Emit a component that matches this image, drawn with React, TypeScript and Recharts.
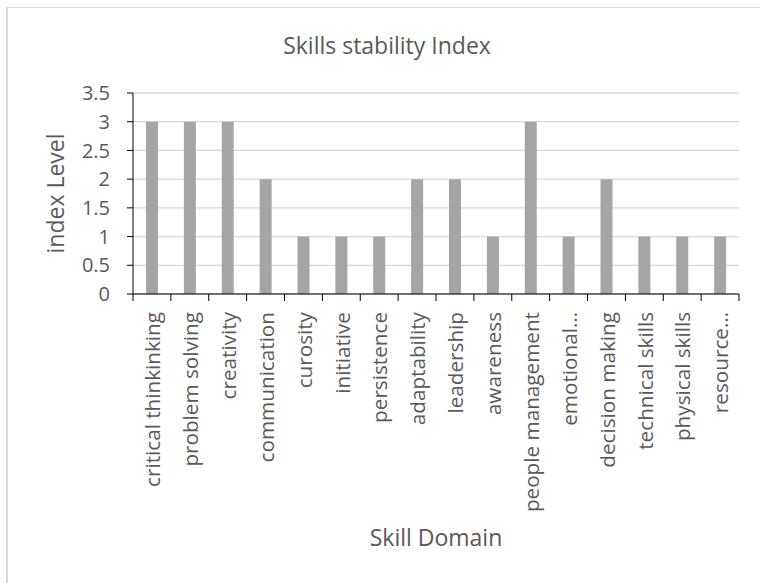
import { BarChart, Bar, XAxis, YAxis, CartesianGrid } from 'recharts';

const skills = [
  'critical thinkinking',
  'problem solving',
  'creativity',
  'communication',
  'curosity',
  'initiative',
  'persistence',
  'adaptability',
  'leadership',
  'awareness',
  'people management',
  'emotional…',
  'decision making',
  'technical skills',
  'physical skills',
  'resource…',
];
const indexLevels = [3, 3, 3, 2, 1, 1, 1, 2, 2, 1, 3, 1, 2, 1, 1, 1];
const yTicks = [0, 0.5, 1, 1.5, 2, 2.5, 3, 3.5];

const data = skills.map((skill, i) => ({ skill, level: indexLevels[i] }));

const TEXT = '#595959';
const PLOT_W = 606;
const BAND = PLOT_W / skills.length;

function SkillTick(props: any) {
  const { x, y, payload, index } = props;
  const half = payload?.offset || BAND / 2;
  return (
    <g transform={`translate(${x},${y})`}>
      <line x1={-half} x2={-half} y1={0} y2={7} stroke="#000" />
      {index === skills.length - 1 && <line x1={half} x2={half} y1={0} y2={7} stroke="#000" />}
      <text
        transform="translate(1,18) rotate(-90)"
        textAnchor="end"
        dy="0.35em"
        fontSize={20.7}
        fill={TEXT}
      >
        {payload.value}
      </text>
    </g>
  );
}

export default function App() {
  return (
    <div
      style={{
        position: 'fixed',
        left: 0,
        top: 0,
        width: 760,
        height: 583,
        overflow: 'hidden',
        background: '#fff',
        fontFamily: '"Open Sans", sans-serif',
      }}
    >
      <div
        style={{
          position: 'absolute',
          left: 6,
          top: 7,
          width: 800,
          height: 700,
          borderLeft: '2px solid #d9d9d9',
          borderTop: '1px solid #d9d9d9',
        }}
      />
      <div
        style={{
          position: 'absolute',
          left: 0,
          top: 34,
          width: 774,
          textAlign: 'center',
          fontSize: 23,
          lineHeight: '23px',
          color: TEXT,
        }}
      >
        Skills stability Index
      </div>
      <div style={{ position: 'absolute', left: 0, top: 0 }}>
        <BarChart width={760} height={583} data={data} margin={{ top: 93, right: 21, left: 0, bottom: 0 }}>
          <CartesianGrid vertical={false} stroke="#d9d9d9" strokeWidth={1.3} />
          <XAxis
            dataKey="skill"
            interval={0}
            height={289}
            tickSize={0}
            tickMargin={0}
            tickLine={false}
            axisLine={{ stroke: '#000' }}
            tick={<SkillTick />}
            label={{ value: 'Skill Domain', position: 'insideBottom', offset: 37, fontSize: 23, fill: TEXT }}
          />
          <YAxis
            width={133}
            domain={[0, 3.5]}
            ticks={yTicks}
            interval={0}
            tickSize={6}
            tickMargin={17}
            axisLine={{ stroke: '#000' }}
            tickLine={{ stroke: '#000' }}
            tick={{ fontSize: 20, fill: TEXT }}
            label={{
              value: 'index Level',
              angle: -90,
              position: 'insideLeft',
              offset: 56,
              fontSize: 23,
              fill: TEXT,
              style: { textAnchor: 'middle' },
            }}
          />
          <Bar dataKey="level" fill="#a5a5a5" barSize={12} isAnimationActive={false} />
        </BarChart>
      </div>
    </div>
  );
}
